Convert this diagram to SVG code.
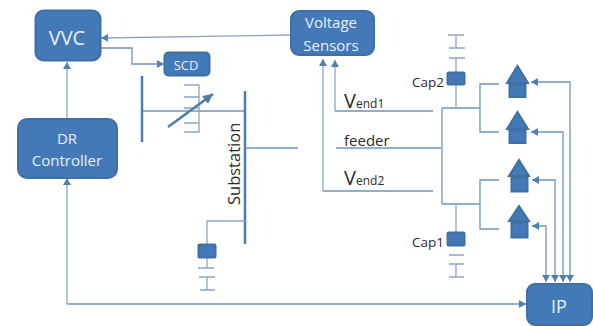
<svg xmlns="http://www.w3.org/2000/svg" width="593" height="326" viewBox="0 0 593 326">
<defs>
<marker id="a" markerUnits="userSpaceOnUse" markerWidth="8" markerHeight="8" refX="7" refY="4" orient="auto-start-reverse"><path d="M0 0L7 4L0 8Z" fill="#4f81b0"/></marker>
<marker id="t" markerUnits="userSpaceOnUse" markerWidth="12" markerHeight="12" refX="10" refY="6" orient="auto"><path d="M0 1L10 6L0 11Z" fill="#4d7eab"/></marker>
</defs>
<style>
.n{fill:#4479b8;stroke:#3f6fa3;stroke-width:2}
.l{fill:none;stroke:#8ba6c3;stroke-width:1.3}
.d{fill:none;stroke:#6f94b8;stroke-width:1.3}
.b{fill:none;stroke:#4d7eab;stroke-width:2.5}
.a{marker-end:url(#a)}
.s{marker-start:url(#a)}
text{font-family:"Open Sans","Liberation Sans",sans-serif}
.w{fill:#e8f0f8;text-anchor:middle}
.k{fill:#2b2b2b}
</style>
<rect width="593" height="326" fill="#fff"/>
<g id="connectors">
<path class="l a" d="M290 35L101 38"/>
<path class="d a" d="M101 48H132V64H164"/>
<path class="l a" d="M67 118V62"/>
<path class="l a" d="M67 304V178"/>
<path class="d a" d="M67 304H526"/>
<path class="d" d="M142 111H245"/>
<path class="b" d="M142 76V142M245 91V244"/>
<path class="d" d="M245 148H298"/>
<path class="l" d="M245 221H207V244"/>
<path class="l" d="M207 258V268M198 268H214M199 277H215M207 277V290M200 290H215"/>
<path class="l" d="M184 85H199V132H184M184 97H199M184 108H199M184 123H199"/>
<path d="M168 127L213 94" fill="none" stroke="#4d7eab" stroke-width="2.6" marker-end="url(#t)"/>
<path class="d" d="M335 111H433M336 148H441M323 191H433"/>
<path class="l a" d="M335 111V60"/>
<path class="l a" d="M323 191V59"/>
<path class="d" d="M442 108V204M442 108H480M442 204H480"/>
<path class="d" d="M499 84H480V132H499M499 180H480V229H499"/>
<path class="l" d="M456 108V85M456 72V58M456 48V35M448 35H464M449 48H465M449 58H465"/>
<path class="l" d="M456 204V232M456 264V277M449 255H464M449 264H464M449 277H464"/>
<path class="d a s" d="M570 282V82H531"/>
<path class="d a s" d="M563 282V132H531"/>
<path class="d a s" d="M555 282V180H532"/>
<path class="d a s" d="M546 282V226H532"/>
</g>
<g id="vvc"><rect class="n" x="35.500" y="10.500" width="65" height="50" rx="8"/><text class="w" x="67" y="45" font-size="20">VVC</text></g>
<g id="scd"><rect class="n" x="164.500" y="52.500" width="45" height="23" rx="4"/><text class="w" x="186" y="70" font-size="13">SCD</text></g>
<g id="dr"><rect class="n" x="18" y="119" width="99" height="59" rx="9"/><text class="w" x="67" y="144" font-size="15">DR</text><text class="w" x="67" y="166" font-size="15">Controller</text></g>
<g id="sensors"><rect class="n" x="291" y="11" width="83" height="44" rx="8"/><text class="w" x="331" y="28" font-size="15">Voltage</text><text class="w" x="331" y="51" font-size="15">Sensors</text></g>
<g id="ip"><rect class="n" x="527" y="284" width="65" height="41" rx="8"/><text class="w" x="559" y="313" font-size="18">IP</text></g>
<g id="cap-sub"><rect class="n" x="198.500" y="244.500" width="17" height="13" rx="1"/></g>
<g id="cap2"><rect class="n" x="447.500" y="72.500" width="17" height="12" rx="1"/><text class="k" x="412" y="87" font-size="13.500">Cap2</text></g>
<g id="cap1"><rect class="n" x="447.500" y="232.500" width="17" height="13" rx="1"/><text class="k" x="412" y="247" font-size="13.500">Cap1</text></g>
<g id="house1"><path class="n" d="M517.500 66L528 83H507Z"/><rect class="n" x="509.500" y="84.500" width="16" height="12.500"/></g>
<g id="house2"><path class="n" d="M517.500 112L528 129H507Z"/><rect class="n" x="509.500" y="130.500" width="16" height="12.500"/></g>
<g id="house3"><path class="n" d="M519 160L529 176H509Z"/><rect class="n" x="511.500" y="177.500" width="16" height="14"/></g>
<g id="house4"><path class="n" d="M519 206L529 221H509Z"/><rect class="n" x="511.500" y="222.500" width="16" height="15"/></g>
<g id="labels">
<text class="k" transform="translate(240 205) rotate(-90)" font-size="16.500">Substation</text>
<text class="k" x="344" y="108" font-size="20">V<tspan font-size="12">end1</tspan></text>
<text class="k" x="344" y="146" font-size="15">feeder</text>
<text class="k" x="344" y="185" font-size="20">V<tspan font-size="12">end2</tspan></text>
</g>
</svg>
